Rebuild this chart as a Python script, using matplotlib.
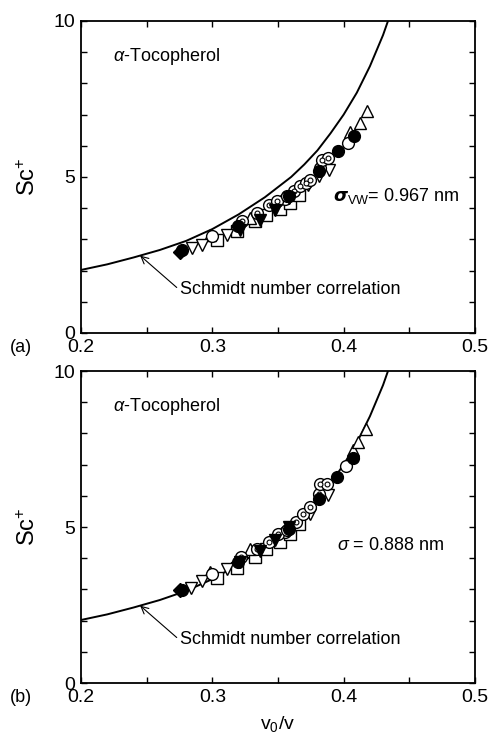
import matplotlib.pyplot as plt
import numpy as np

plt.rcParams['font.family'] = ['Liberation Sans', 'DejaVu Sans']
plt.rcParams['mathtext.fontset'] = 'custom'
plt.rcParams['mathtext.rm'] = 'Liberation Sans'
plt.rcParams['mathtext.it'] = 'Liberation Sans:italic'

# Schmidt number correlation
curve_x = [0.20, 0.22, 0.24, 0.26, 0.28, 0.30, 0.32, 0.34, 0.36, 0.37, 0.38, 0.39, 0.40, 0.41, 0.42, 0.43, 0.435]
curve_y = [2.02, 2.20, 2.42, 2.66, 2.95, 3.33, 3.80, 4.35, 5.00, 5.40, 5.85, 6.40, 7.00, 7.70, 8.55, 9.55, 10.15]

# panel (a): sigma_vw = 0.967 nm
a_fcirc_x = [0.2767, 0.3198, 0.358, 0.3815, 0.3954, 0.4075]
a_fcirc_y = [2.67, 3.42, 4.38, 5.18, 5.82, 6.32]
a_ocirc_x = [0.403, 0.3000, 0.3550]
a_ocirc_y = [6.08, 3.10, 4.30]
a_bull_x = [0.3223, 0.334, 0.343, 0.349, 0.357, 0.362, 0.367, 0.371, 0.374, 0.382, 0.3835, 0.3880]
a_bull_y = [3.58, 3.84, 4.11, 4.22, 4.38, 4.54, 4.70, 4.80, 4.91, 5.28, 5.55, 5.60]
a_sq_x = [0.3033, 0.3185, 0.3325, 0.341, 0.3515, 0.359, 0.366]
a_sq_y = [2.99, 3.26, 3.58, 3.79, 3.97, 4.16, 4.43]
a_tup_x = [0.298, 0.329, 0.405, 0.4125, 0.4180]
a_tup_y = [3.15, 3.70, 6.45, 6.72, 7.10]
a_tdn_x = [0.2843, 0.292, 0.311, 0.373, 0.381, 0.389]
a_tdn_y = [2.72, 2.83, 3.15, 4.75, 5.02, 5.23]
a_ftdn_x = [0.321, 0.336, 0.348, 0.358]
a_ftdn_y = [3.31, 3.63, 3.95, 4.32]
a_fdia_x = [0.2754]
a_fdia_y = [2.61]

# panel (b): sigma = 0.888 nm
b_fcirc_x = [0.2767, 0.3198, 0.358, 0.381, 0.395, 0.407]
b_fcirc_y = [2.99, 3.88, 4.95, 5.91, 6.61, 7.22]
b_ocirc_x = [0.4015, 0.3000, 0.3550]
b_ocirc_y = [6.95, 3.50, 4.85]
b_bull_x = [0.322, 0.334, 0.343, 0.350, 0.357, 0.364, 0.369, 0.374, 0.381, 0.382, 0.387]
b_bull_y = [4.04, 4.30, 4.52, 4.79, 4.90, 5.17, 5.43, 5.65, 6.07, 6.37, 6.37]
b_sq_x = [0.3033, 0.319, 0.3325, 0.341, 0.3515, 0.359, 0.366]
b_sq_y = [3.38, 3.70, 4.04, 4.31, 4.52, 4.79, 5.09]
b_tup_x = [0.298, 0.3287, 0.407, 0.411, 0.417]
b_tup_y = [3.56, 4.31, 7.47, 7.73, 8.13]
b_tdn_x = [0.284, 0.292, 0.311, 0.374, 0.381, 0.388]
b_tdn_y = [3.05, 3.26, 3.64, 5.43, 5.90, 6.02]
b_ftdn_x = [0.321, 0.336, 0.348, 0.358]
b_ftdn_y = [3.88, 4.24, 4.58, 5.00]
b_fdia_x = [0.2754]
b_fdia_y = [2.97]

fig = plt.figure(figsize=(4.91, 7.36), dpi=100)
ax_a = fig.add_axes([0.165, 0.5476, 0.8024, 0.4239])
ax_b = fig.add_axes([0.165, 0.072, 0.8024, 0.4239])


def draw_panel(ax, d, label, sig_text, sig_x, sig_y):
    ax.plot(curve_x, curve_y, color='black', lw=1.4, zorder=2)
    ms = 8.5
    ax.plot(d['sq'][0], d['sq'][1], 's', ms=ms, mfc='white', mec='black', mew=1.0, ls='none')
    ax.plot(d['tup'][0], d['tup'][1], '^', ms=ms, mfc='white', mec='black', mew=1.0, ls='none')
    ax.plot(d['tdn'][0], d['tdn'][1], 'v', ms=ms, mfc='white', mec='black', mew=1.0, ls='none')
    ax.plot(d['oc'][0], d['oc'][1], 'o', ms=ms, mfc='white', mec='black', mew=1.0, ls='none')
    ax.plot(d['bull'][0], d['bull'][1], 'o', ms=ms, mfc='white', mec='black', mew=1.0, ls='none')
    ax.plot(d['bull'][0], d['bull'][1], 'o', ms=3.5, mfc='white', mec='black', mew=0.8, ls='none')
    ax.plot(d['ftdn'][0], d['ftdn'][1], 'v', ms=ms, mfc='black', mec='black', ls='none')
    ax.plot(d['fc'][0], d['fc'][1], 'o', ms=ms, mfc='black', mec='black', ls='none')
    ax.plot(d['fd'][0], d['fd'][1], 'D', ms=7, mfc='black', mec='black', ls='none')

    ax.set_xlim(0.2, 0.5)
    ax.set_ylim(0, 10)
    ax.set_xticks([0.2, 0.3, 0.4, 0.5])
    ax.set_xticklabels(['0.2', '0.3', '0.4', '0.5'])
    ax.set_xticks([0.25, 0.35, 0.45], minor=True)
    ax.set_yticks([0, 5, 10])
    ax.set_yticks([1, 2, 3, 4, 6, 7, 8, 9], minor=True)
    ax.tick_params(which='both', direction='in', top=True, right=True, labelsize=14, width=1.0)
    ax.tick_params(which='both', length=4.5)
    ax.tick_params(which='major', pad=4)
    for s in ax.spines.values():
        s.set_linewidth(1.3)
    ax.set_ylabel('Sc$^{+}$', fontsize=17, labelpad=10)

    ax.text(0.08, 0.885, r'$\alpha$-Tocopherol', transform=ax.transAxes,
            fontsize=13, ha='left', va='center')
    ax.text(sig_x, sig_y, sig_text, fontsize=13, ha='left', va='center')
    ax.annotate('Schmidt number correlation', xy=(0.245, 2.48), xytext=(0.275, 1.38),
                fontsize=13, ha='left', va='center',
                arrowprops=dict(arrowstyle='->', color='black', lw=0.8,
                                shrinkA=0, shrinkB=0, relpos=(0, 0.5)))
    ax.text(-0.18, -0.045, label, transform=ax.transAxes, fontsize=13, ha='left', va='center')


draw_panel(ax_a,
           dict(fc=(a_fcirc_x, a_fcirc_y), oc=(a_ocirc_x, a_ocirc_y), bull=(a_bull_x, a_bull_y),
                sq=(a_sq_x, a_sq_y), tup=(a_tup_x, a_tup_y), tdn=(a_tdn_x, a_tdn_y),
                ftdn=(a_ftdn_x, a_ftdn_y), fd=(a_fdia_x, a_fdia_y)),
           '(a)', r'$\boldsymbol{\sigma}_{\rm VW}$= 0.967 nm', 0.392, 4.4)
draw_panel(ax_b,
           dict(fc=(b_fcirc_x, b_fcirc_y), oc=(b_ocirc_x, b_ocirc_y), bull=(b_bull_x, b_bull_y),
                sq=(b_sq_x, b_sq_y), tup=(b_tup_x, b_tup_y), tdn=(b_tdn_x, b_tdn_y),
                ftdn=(b_ftdn_x, b_ftdn_y), fd=(b_fdia_x, b_fdia_y)),
           '(b)', r'$\sigma$ = 0.888 nm', 0.395, 4.42)

ax_b.set_xlabel('v$_0$/v', fontsize=14, labelpad=6)

fig.savefig('out.png', dpi=100)
